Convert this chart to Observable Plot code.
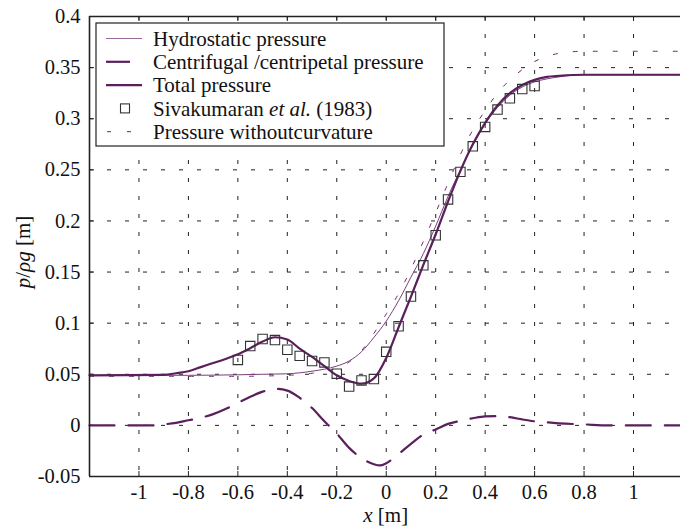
<!DOCTYPE html>
<html><head><meta charset="utf-8">
<script src="https://cdn.jsdelivr.net/npm/d3@7"></script>
<script src="https://cdn.jsdelivr.net/npm/@observablehq/plot@0.6"></script>
<style>
html,body{margin:0;padding:0;background:#fff;overflow:hidden;}
#chart svg{overflow:hidden;display:block;}
#chart svg text, #chart svg tspan{font-family:"Liberation Serif","DejaVu Serif","Times New Roman",Times,serif !important;}
</style></head><body><div id="chart"></div>
<script>
// ---- data ----
const xTicks = [-1, -0.8, -0.6, -0.4, -0.2, 0, 0.2, 0.4, 0.6, 0.8, 1];
const xTickLabels = ["-1", "-0.8", "-0.6", "-0.4", "-0.2", "0", "0.2", "0.4", "0.6", "0.8", "1"];
const yTicks = [-0.05, 0, 0.05, 0.1, 0.15, 0.2, 0.25, 0.3, 0.35, 0.4];
const yTickLabels = ["-0.05", "0", "0.05", "0.1", "0.15", "0.2", "0.25", "0.3", "0.35", "0.4"];

const hydroX = [-1.2,-0.8,-0.6,-0.5,-0.4,-0.3,-0.25,-0.2,-0.15,-0.1,-0.05,0,0.05,0.1,0.15,0.2,0.25,0.3,0.35,0.4,0.45,0.5,0.55,0.6,0.65,0.7,0.8,1.2];
const hydroY = [0.049,0.049,0.0495,0.050,0.0505,0.053,0.055,0.058,0.063,0.072,0.086,0.102,0.122,0.145,0.168,0.195,0.224,0.250,0.274,0.295,0.311,0.323,0.331,0.336,0.339,0.341,0.343,0.343];

const centX = [-1.2,-0.95,-0.9,-0.85,-0.8,-0.75,-0.7,-0.65,-0.6,-0.55,-0.5,-0.45,-0.4,-0.35,-0.3,-0.25,-0.2,-0.15,-0.1,-0.05,-0.025,0,0.05,0.1,0.15,0.2,0.25,0.3,0.35,0.4,0.45,0.5,0.55,0.6,0.65,0.7,0.8,0.9,1.2];
const centY = [0,0,0.001,0.0025,0.005,0.0075,0.011,0.016,0.022,0.028,0.033,0.0358,0.034,0.027,0.017,0.004,-0.008,-0.022,-0.032,-0.038,-0.0392,-0.037,-0.028,-0.018,-0.009,-0.004,0.0015,0.0045,0.007,0.0088,0.009,0.008,0.0058,0.004,0.003,0.002,0.001,0,0];

const totalX = [-1.2,-0.9,-0.85,-0.8,-0.75,-0.7,-0.65,-0.6,-0.55,-0.5,-0.45,-0.4,-0.35,-0.3,-0.25,-0.2,-0.15,-0.1,-0.05,0,0.05,0.1,0.15,0.2,0.25,0.3,0.35,0.4,0.45,0.5,0.55,0.6,0.65,0.7,0.8,1.2];
const totalY = [0.049,0.0495,0.051,0.053,0.057,0.061,0.065,0.0695,0.0755,0.082,0.0862,0.084,0.075,0.067,0.058,0.049,0.0435,0.0408,0.046,0.066,0.096,0.126,0.157,0.187,0.219,0.249,0.275,0.296,0.313,0.325,0.333,0.338,0.341,0.342,0.343,0.343];

const noCurvX = [-1.2,-0.6,-0.4,-0.3,-0.2,-0.15,-0.1,-0.05,0,0.05,0.1,0.15,0.2,0.25,0.3,0.35,0.4,0.45,0.5,0.55,0.6,0.65,0.7,0.8,1.2];
const noCurvY = [0.048,0.048,0.049,0.051,0.056,0.062,0.073,0.090,0.109,0.129,0.153,0.18,0.208,0.237,0.265,0.289,0.308,0.325,0.338,0.348,0.356,0.361,0.364,0.366,0.366];

const sivaX = [-0.6,-0.55,-0.5,-0.45,-0.4,-0.35,-0.3,-0.25,-0.2,-0.15,-0.1,-0.05,0,0.05,0.1,0.15,0.2,0.25,0.3,0.35,0.4,0.45,0.5,0.55,0.6];
const sivaY = [0.064,0.0776,0.0845,0.0835,0.074,0.068,0.063,0.0616,0.0506,0.038,0.044,0.0453,0.072,0.097,0.126,0.1566,0.186,0.221,0.248,0.273,0.292,0.309,0.320,0.329,0.332];

const legendLabels = ["Hydrostatic pressure", "Centrifugal /centripetal pressure", "Total pressure", "Sivakumaran et al. (1983)", "Pressure withoutcurvature"];

// ---- build ----
const toRows = (xs, ys) => xs.map((x, i) => ({x, y: ys[i]}));
const hydro = toRows(hydroX, hydroY);
const cent = toRows(centX, centY);
const total = toRows(totalX, totalY);
const noCurv = toRows(noCurvX, noCurvY);
const siva = toRows(sivaX, sivaY);

const W = 680, H = 528, mL = 89, mR = 0, mT = 16, mB = 52;
const frameW = W - mL - mR, frameH = H - mT - mB;
const thick = "#5b1f5d", thin = "#7a3f7a", dashThin = "#6a2a6a";
const font = '"Liberation Serif", "DejaVu Serif", "Times New Roman", Times, serif';

const plot = Plot.plot({
  width: W, height: H, marginLeft: mL, marginRight: mR, marginTop: mT, marginBottom: mB,
  style: {fontFamily: font, fontSize: "20.5px", background: "white", color: "#111"},
  x: {domain: [-1.2, 1.19]},
  y: {domain: [-0.05, 0.4]},
  marks: [
    Plot.gridX(xTicks, {stroke: "#222", strokeOpacity: 1, strokeWidth: 1, strokeDasharray: "4,14"}),
    Plot.gridY(yTicks, {stroke: "#222", strokeOpacity: 1, strokeWidth: 1, strokeDasharray: "4,14"}),
    Plot.tickX(xTicks, {x: d => d, insetTop: frameH - 5, stroke: "#222"}),
    Plot.tickX(xTicks, {x: d => d, insetBottom: frameH - 5, stroke: "#222"}),
    Plot.tickY(yTicks, {y: d => d, insetRight: frameW - 5, stroke: "#222"}),
    Plot.line(noCurv, {x: "x", y: "y", stroke: dashThin, strokeWidth: 1, strokeDasharray: "4,16", curve: "monotone-x"}),
    Plot.line(hydro, {x: "x", y: "y", stroke: thin, strokeWidth: 1, curve: "monotone-x"}),
    Plot.line(cent, {x: "x", y: "y", stroke: thick, strokeWidth: 2.2, strokeDasharray: "25,14", curve: "monotone-x"}),
    Plot.line(total, {x: "x", y: "y", stroke: thick, strokeWidth: 2.2, curve: "monotone-x"}),
    Plot.dot(siva, {x: "x", y: "y", symbol: "square", r: 5.3, stroke: "#333", strokeWidth: 1.1, fill: "none"}),
    Plot.ruleX([-1.2], {stroke: "#222", strokeWidth: 1.6}),
    Plot.ruleY([-0.05, 0.4], {stroke: "#222", strokeWidth: 1.4}),
    Plot.axisX(xTicks, {tickSize: 0, tickPadding: 8, tickFormat: d => xTickLabels[xTicks.indexOf(d)], label: null, fill: "#111"}),
    Plot.axisY(yTicks, {tickSize: 0, tickPadding: 9, tickFormat: d => yTickLabels[yTicks.indexOf(d)], label: null, fill: "#111"})
  ]
});
document.getElementById("chart").appendChild(plot);

// ---- axis titles & legend ----
const svg = d3.select(plot);
const xl = svg.append("text").attr("x", mL + frameW * (1.2 / 2.39)).attr("y", 522)
  .attr("text-anchor", "middle").style("font-size", "21px").attr("fill", "#111");
xl.append("tspan").attr("font-style", "italic").text("x");
xl.append("tspan").text(" [m]");

const yl = svg.append("text").attr("transform", "translate(30,252) rotate(-90)")
  .attr("text-anchor", "middle").style("font-size", "21px").attr("fill", "#111");
yl.append("tspan").attr("font-style", "italic").text("p");
yl.append("tspan").text("/");
yl.append("tspan").attr("font-style", "italic").text("ρg");
yl.append("tspan").text(" [m]");

const lg = svg.append("g").attr("text-anchor", "start");
lg.append("rect").attr("x", 96).attr("y", 23).attr("width", 348).attr("height", 123)
  .attr("fill", "white").attr("stroke", "#222").attr("stroke-width", 1.2);
const rowY = i => 38.5 + i * 23.3;
const sx0 = 106, sx1 = 142;
lg.append("line").attr("x1", sx0).attr("x2", sx1).attr("y1", rowY(0)).attr("y2", rowY(0)).attr("stroke", "#9a6a9a").attr("stroke-width", 1);
lg.append("line").attr("x1", sx0).attr("x2", sx0 + 24).attr("y1", rowY(1)).attr("y2", rowY(1)).attr("stroke", thick).attr("stroke-width", 2.2);
lg.append("line").attr("x1", sx0).attr("x2", sx1).attr("y1", rowY(2)).attr("y2", rowY(2)).attr("stroke", thick).attr("stroke-width", 2.2);
lg.append("rect").attr("x", 125 - 4.5).attr("y", rowY(3) - 4.5).attr("width", 9).attr("height", 9).attr("fill", "none").attr("stroke", "#333").attr("stroke-width", 1.1);
lg.append("line").attr("x1", sx0).attr("x2", sx1).attr("y1", rowY(4)).attr("y2", rowY(4)).attr("stroke", dashThin).attr("stroke-width", 1).attr("stroke-dasharray", "4,16").attr("stroke-dashoffset", -1);
legendLabels.forEach((t, i) => {
  const tx = lg.append("text").attr("x", 153).attr("y", rowY(i)).attr("dy", "0.35em")
    .attr("text-anchor", "start").style("font-size", "21px").attr("fill", "#111");
  if (i === 3) {
    tx.append("tspan").text("Sivakumaran ");
    tx.append("tspan").attr("font-style", "italic").text("et al.");
    tx.append("tspan").text(" (1983)");
  } else tx.text(t);
});
</script></body></html>
